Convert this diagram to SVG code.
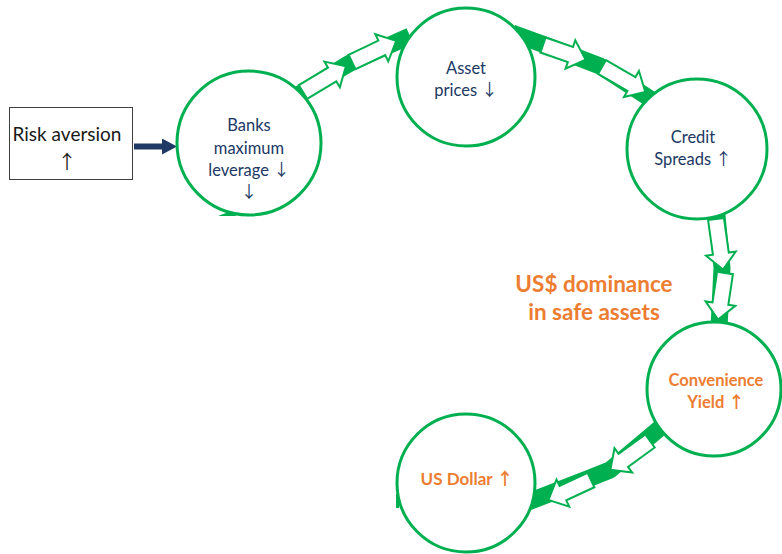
<svg xmlns="http://www.w3.org/2000/svg" width="782" height="554" viewBox="0 0 782 554">
<style>
.band{fill:none;stroke:#00B050;stroke-width:17;stroke-linejoin:round}
.blk{fill:#fff;stroke:#00B050;stroke-width:2;stroke-linejoin:miter}
.node{fill:#fff;stroke:#00B050;stroke-width:3}
.nv{font-family:Lato,"Liberation Sans",sans-serif;font-size:16.5px;fill:#203864;text-anchor:middle}
.or{font-family:Lato,"Liberation Sans",sans-serif;font-weight:bold;fill:#ED7D31;text-anchor:middle}
.ar{font-family:"Noto Sans CJK SC","DejaVu Sans",sans-serif;font-weight:normal}
.arb{font-family:"Noto Sans CJK SC","DejaVu Sans",sans-serif;font-weight:bold}
.wedge{fill:#00B050}
</style>
<defs>
<marker id="ah" markerUnits="userSpaceOnUse" markerWidth="15" markerHeight="16" refX="4" refY="8" orient="auto">
<path d="M0,0 L15,8 L0,16 Z" fill="#1F3864"/>
</marker>
</defs>
<g id="connectors">
<polyline class="band" points="290,100 345,66 352,62 410,36"/>
<polyline class="band" points="512,33 545,45 600,66 652,100"/>
<polyline class="band" points="716,205 722,268 719,328"/>
<polyline class="band" points="660,428 610,470 590,478 528,502"/>
<polygon class="blk" transform="translate(303,92) rotate(-31)" points="0,-8 34,-8 34,-15 50,0 34,15 34,8 0,8"/>
<polygon class="blk" transform="translate(352,62) rotate(-25.5)" points="0,-8 33,-8 33,-15 49,0 33,15 33,8 0,8"/>
<polygon class="blk" transform="translate(543,45) rotate(19)" points="0,-8 29,-8 29,-15 45,0 29,15 29,8 0,8"/>
<polygon class="blk" transform="translate(602,67) rotate(30)" points="0,-8 34,-8 34,-15 50,0 34,15 34,8 0,8"/>
<polygon class="blk" transform="translate(716,219) rotate(82)" points="0,-8 35,-8 35,-15 51,0 35,15 35,8 0,8"/>
<polygon class="blk" transform="translate(725,273) rotate(98.5)" points="0,-8 31,-8 31,-15 47,0 31,15 31,8 0,8"/>
<polygon class="blk" transform="translate(650,441) rotate(144)" points="0,-8 33,-8 33,-15 49,0 33,15 33,8 0,8"/>
<polygon class="blk" transform="translate(591,480) rotate(155)" points="0,-8 31,-8 31,-15 47,0 31,15 31,8 0,8"/>
<line x1="134" y1="146.5" x2="166" y2="146.5" stroke="#1F3864" stroke-width="6" marker-end="url(#ah)"/>
<polygon class="wedge" points="218,216 234,210 236,216"/>
<polygon class="wedge" points="396,494 399,494 399,508 396,508"/>
</g>
<g id="risk">
<rect x="9.5" y="107.5" width="123" height="72" fill="#fff" stroke="#404040" stroke-width="1"/>
<text x="67" y="141" font-family="Lato,'Liberation Sans',sans-serif" font-size="19" fill="#1a1a1a" text-anchor="middle">Risk aversion</text>
<text class="ar" x="67" y="169" font-size="19" fill="#1a1a1a" text-anchor="middle">↑</text>
</g>
<g id="banks">
<circle class="node" cx="249" cy="143" r="72"/>
<text class="nv" x="249" y="131">Banks</text>
<text class="nv" x="249" y="154">maximum</text>
<text class="nv" x="249" y="176">leverage <tspan class="ar">↓</tspan></text>
<text class="nv ar" x="249" y="198">↓</text>
</g>
<g id="asset">
<circle class="node" cx="466" cy="77" r="69"/>
<text class="nv" x="466" y="74">Asset</text>
<text class="nv" x="466" y="96">prices <tspan class="ar">↓</tspan></text>
</g>
<g id="credit">
<circle class="node" cx="697" cy="149" r="70"/>
<text class="nv" x="693" y="143">Credit</text>
<text class="nv" x="693" y="165">Spreads <tspan class="ar">↑</tspan></text>
</g>
<g id="dominance">
<text class="or" x="594" y="292" font-size="22.5">US$ dominance</text>
<text class="or" x="594" y="320" font-size="22.5">in safe assets</text>
</g>
<g id="convenience">
<circle class="node" cx="714" cy="389" r="67"/>
<text class="or" x="716" y="386" font-size="16.5">Convenience</text>
<text class="or" x="716" y="408" font-size="16.5">Yield <tspan class="arb">↑</tspan></text>
</g>
<g id="usdollar">
<circle class="node" cx="466" cy="483" r="69"/>
<text class="or" x="467" y="485" font-size="17">US Dollar <tspan class="arb">↑</tspan></text>
</g>
</svg>
